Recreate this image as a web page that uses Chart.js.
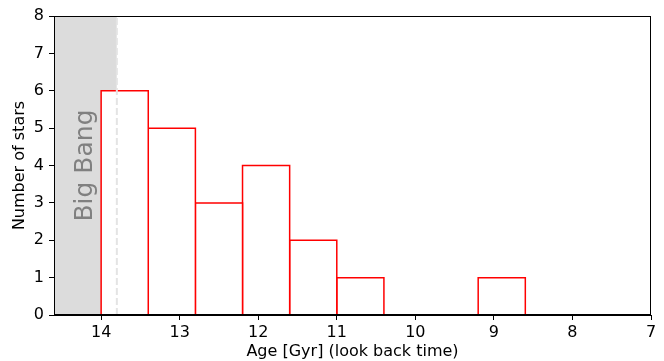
<!DOCTYPE html>
<html>
<head>
<meta charset="utf-8">
<script src="https://cdn.jsdelivr.net/npm/chart.js@4"></script>
<style>
  html, body { margin: 0; padding: 0; background: #fff; }
  #wrap { width: 664px; height: 361px; }
</style>
</head>
<body>
<div id="wrap"><canvas id="ageHistChart"></canvas></div>
<script>
// histogram bins (Gyr), counts per bin
var binEdges = [14.0, 13.4, 12.8, 12.2, 11.6, 11.0, 10.4, 9.8, 9.2, 8.6];
var counts = [6, 5, 3, 4, 2, 1, 0, 0, 1];
var xTicks = [14, 13, 12, 11, 10, 9, 8, 7];
var yTicks = [0, 1, 2, 3, 4, 5, 6, 7, 8];
var bigBangAge = 13.8;
var xMin = 7, xMax = 14.6;
var yMin = 0, yMax = 8;

var datasets = [];

// shaded "before the big bang" region
datasets.push({
	data: [{x: xMax, y: yMax}, {x: bigBangAge, y: yMax}],
	borderWidth: 0,
	backgroundColor: '#dcdcdc',
	fill: 'origin',
	pointRadius: 0,
	order: 3
});

// one outlined rectangle per non-empty bin
for (var i = 0; i < counts.length; i++) {
	if (counts[i] === 0) continue;
	var l = binEdges[i], r = binEdges[i + 1], h = counts[i];
	datasets.push({
		data: [{x: l, y: 0}, {x: l, y: h}, {x: r, y: h}, {x: r, y: 0}],
		borderColor: '#ff0000',
		borderWidth: 1.5,
		backgroundColor: '#ffffff',
		fill: 'origin',
		pointRadius: 0,
		order: 2
	});
}

// dashed line at the big bang
datasets.push({
	data: [{x: bigBangAge, y: yMin}, {x: bigBangAge, y: yMax}],
	borderColor: '#e4e4e4',
	borderWidth: 2,
	borderDash: [7, 3],
	fill: false,
	pointRadius: 0,
	order: 1
});

var framePlugin = {
	id: 'frame',
	afterDatasetsDraw: function (chart) {
		var ctx = chart.ctx, a = chart.chartArea;
		var xs = chart.scales.x, ys = chart.scales.y;
		ctx.save();
		// Big Bang label
		ctx.translate(xs.getPixelForValue(14.2), ys.getPixelForValue(4));
		ctx.rotate(-Math.PI / 2);
		ctx.fillStyle = '#808080';
		ctx.font = '25px "DejaVu Sans"';
		ctx.textAlign = 'center';
		ctx.textBaseline = 'middle';
		ctx.fillText('Big Bang', 0, 0);
		ctx.restore();

		ctx.save();
		ctx.strokeStyle = '#000';
		ctx.lineWidth = 1;
		ctx.strokeRect(a.left + 0.5, a.top + 0.5, a.right - a.left - 1, a.bottom - a.top - 1);
		ctx.restore();
	}
};

Chart.defaults.font.family = 'DejaVu Sans';
Chart.defaults.font.size = 16;
Chart.defaults.color = '#000';

var ctx = document.getElementById('ageHistChart').getContext('2d');
var ageHistChart = new Chart(ctx, {
	type: 'scatter',
	data: {datasets: datasets},
	plugins: [framePlugin],
	options: {
		responsive: true,
		maintainAspectRatio: false,
		animation: false,
		showLine: true,
		layout: {padding: {left: 0, right: 13, top: 16, bottom: 0}},
		plugins: {
			legend: {display: false},
			tooltip: {enabled: false}
		},
		elements: {line: {tension: 0}},
		scales: {
			x: {
				type: 'linear',
				reverse: true,
				min: xMin,
				max: xMax,
				afterBuildTicks: function (s) { s.ticks = xTicks.map(function (v) { return {value: v}; }); },
				afterFit: function (s) { s.height = 46; },
				ticks: {padding: 3, maxRotation: 0, autoSkip: false},
				grid: {display: true, drawOnChartArea: false, drawTicks: true, tickLength: 5, color: '#000'},
				border: {display: true, color: '#000'},
				title: {display: true, text: 'Age [Gyr] (look back time)', padding: {top: 0, bottom: 0}}
			},
			y: {
				min: yMin,
				max: yMax,
				afterBuildTicks: function (s) { s.ticks = yTicks.map(function (v) { return {value: v}; }); },
				afterFit: function (s) { s.width = 54; },
				ticks: {padding: 5, autoSkip: false},
				grid: {display: true, drawOnChartArea: false, drawTicks: true, tickLength: 5, color: '#000'},
				border: {display: true, color: '#000'},
				title: {display: true, text: 'Number of stars', padding: {top: 10, bottom: 0}}
			}
		}
	}
});
</script>
</body>
</html>
